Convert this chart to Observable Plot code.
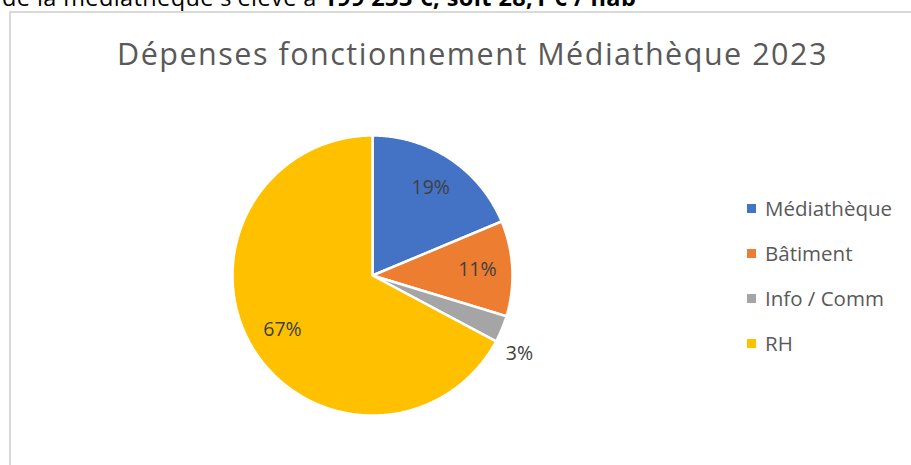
<!DOCTYPE html>
<html>
<head>
<meta charset="utf-8">
<script src="https://cdn.jsdelivr.net/npm/d3@7"></script>
<script src="https://cdn.jsdelivr.net/npm/@observablehq/plot@0.6"></script>
<style>
  html, body { margin: 0; padding: 0; background: #fff; }
  body { width: 911px; height: 465px; overflow: hidden; position: relative; font-family: "Open Sans", sans-serif; }
  #intro { position: absolute; left: 2px; top: -14px; font-size: 23.5px; line-height: 23.5px; color: #000; white-space: nowrap; letter-spacing: 0.4px; }
  #box { position: absolute; left: 9px; top: 11px; width: 1000px; height: 1000px; border: 2px solid #d9d9d9; box-sizing: border-box; }
  #title { position: absolute; left: 0; width: 945px; top: 38px; text-align: center; font-size: 30.5px; line-height: 30.5px; color: #595959; white-space: nowrap; letter-spacing: 1.5px; }
  #plot { position: absolute; left: 0; top: 0; }
  #legend { position: absolute; left: 747px; top: 185.5px; }
  .row { height: 45px; display: flex; align-items: center; font-size: 20.5px; line-height: 45px; color: #595959; white-space: nowrap; }
  .sw { width: 9px; height: 9px; margin-right: 9px; }
</style>
</head>
<body>
<div id="intro">de la médiathèque s'élève à <b>199 233 €, soit 28,1 € / hab</b></div>
<div id="box"></div>
<div id="title">Dépenses fonctionnement Médiathèque 2023</div>
<div id="plot"></div>
<div id="legend"></div>
<script>
const categories = ["Médiathèque", "Bâtiment", "Info / Comm", "RH"];
const values = [18.7, 11.0, 3.1, 67.2];
const labels = ["19%", "11%", "3%", "67%"];
const colors = ["#4472C4", "#ED7D31", "#A5A5A5", "#FFC000"];

const pie = d3.pie().sort(null).value(d => d.value)(
  categories.map((c, i) => ({category: c, value: values[i], label: labels[i]}))
);

// polygon outline for each slice (angles measured clockwise from 12 o'clock)
const pts = [];
for (const s of pie) {
  const c = s.data.category;
  pts.push({category: c, x: 0, y: 0});
  const n = Math.max(2, Math.ceil((s.endAngle - s.startAngle) / 0.01));
  for (let k = 0; k <= n; k++) {
    const a = s.startAngle + (s.endAngle - s.startAngle) * k / n;
    pts.push({category: c, x: Math.sin(a), y: Math.cos(a)});
  }
  pts.push({category: c, x: 0, y: 0});
}

const labelPts = pie.map(s => {
  const share = s.data.value / d3.sum(values);
  const outside = share < 0.05;
  const a = outside ? s.endAngle : (s.startAngle + s.endAngle) / 2;
  const r = outside ? 1.19 : 0.75;
  return {x: Math.sin(a) * r, y: Math.cos(a) * r, label: s.data.label};
});

const cx = 372, cy = 275, R = 140;
const chart = Plot.plot({
  width: 911,
  height: 465,
  margin: 0,
  x: {domain: [-1, 1], range: [cx - R, cx + R], axis: null},
  y: {domain: [-1, 1], range: [cy + R, cy - R], axis: null},
  color: {domain: categories, range: colors},
  style: {background: "transparent", overflow: "visible"},
  marks: [
    Plot.line(pts, {x: "x", y: "y", z: "category", fill: "category", stroke: "#fff", strokeWidth: 2.5, strokeLinejoin: "miter"}),
    Plot.text(labelPts, {x: "x", y: "y", text: "label", fill: "#404040", fontSize: 19.5, fontFamily: "Open Sans"})
  ]
});
document.getElementById("plot").appendChild(chart);

const legend = document.getElementById("legend");
categories.forEach((c, i) => {
  const row = document.createElement("div");
  row.className = "row";
  const sw = document.createElement("div");
  sw.className = "sw";
  sw.style.background = colors[i];
  const t = document.createElement("span");
  t.textContent = c;
  row.appendChild(sw);
  row.appendChild(t);
  legend.appendChild(row);
});
</script>
</body>
</html>
